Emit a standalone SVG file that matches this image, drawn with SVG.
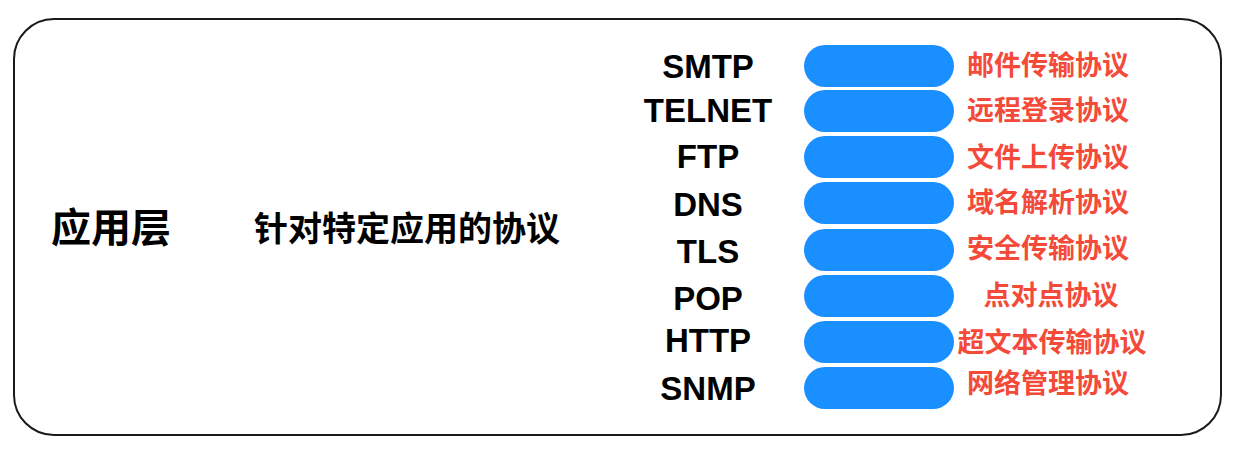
<svg xmlns="http://www.w3.org/2000/svg" width="1235" height="451" viewBox="0 0 1235 451">
<style>
.frame{fill:#fff;stroke:#1a1a1a;stroke-width:2}
.pill{fill:#1a8fff}
.en{font-family:"Liberation Sans",Arial,sans-serif;font-weight:bold;font-size:33px;fill:#000;text-anchor:middle}
.cn{font-family:"Noto Sans CJK SC","Noto Sans",sans-serif;font-weight:bold;font-size:27px;fill:#f44a3a;text-anchor:middle}
.title{font-family:"Noto Sans CJK SC",sans-serif;font-weight:bold;fill:#000}
</style>
<rect width="1235" height="451" fill="#fff"/>
<g id="layer">
<rect class="frame" x="14" y="19" width="1207" height="416" rx="40" ry="40"/>
<text class="title" x="51" y="242" font-size="40">应用层</text>
<text class="title" x="254" y="241" font-size="34">针对特定应用的协议</text>
</g>
<g id="connectors"></g>
<g id="smtp"><rect class="pill" x="804" y="45" width="150" height="42" rx="21"/><text class="en" x="708" y="78">SMTP</text><text class="cn" x="1048" y="75">邮件传输协议</text></g>
<g id="telnet"><rect class="pill" x="804" y="90" width="150" height="42" rx="21"/><text class="en" x="708" y="122">TELNET</text><text class="cn" x="1048" y="120">远程登录协议</text></g>
<g id="ftp"><rect class="pill" x="804" y="136" width="150" height="42" rx="21"/><text class="en" x="708" y="168">FTP</text><text class="cn" x="1048" y="167">文件上传协议</text></g>
<g id="dns"><rect class="pill" x="804" y="182" width="150" height="42" rx="21"/><text class="en" x="708" y="216">DNS</text><text class="cn" x="1048" y="212">域名解析协议</text></g>
<g id="tls"><rect class="pill" x="804" y="229" width="150" height="42" rx="21"/><text class="en" x="708" y="263">TLS</text><text class="cn" x="1048" y="258">安全传输协议</text></g>
<g id="pop"><rect class="pill" x="804" y="275" width="150" height="42" rx="21"/><text class="en" x="708" y="310">POP</text><text class="cn" x="1051" y="305">点对点协议</text></g>
<g id="http"><rect class="pill" x="804" y="321" width="150" height="42" rx="21"/><text class="en" x="708" y="352">HTTP</text><text class="cn" x="1052" y="352">超文本传输协议</text></g>
<g id="snmp"><rect class="pill" x="804" y="367" width="150" height="42" rx="21"/><text class="en" x="708" y="400">SNMP</text><text class="cn" x="1048" y="393">网络管理协议</text></g>
</svg>
